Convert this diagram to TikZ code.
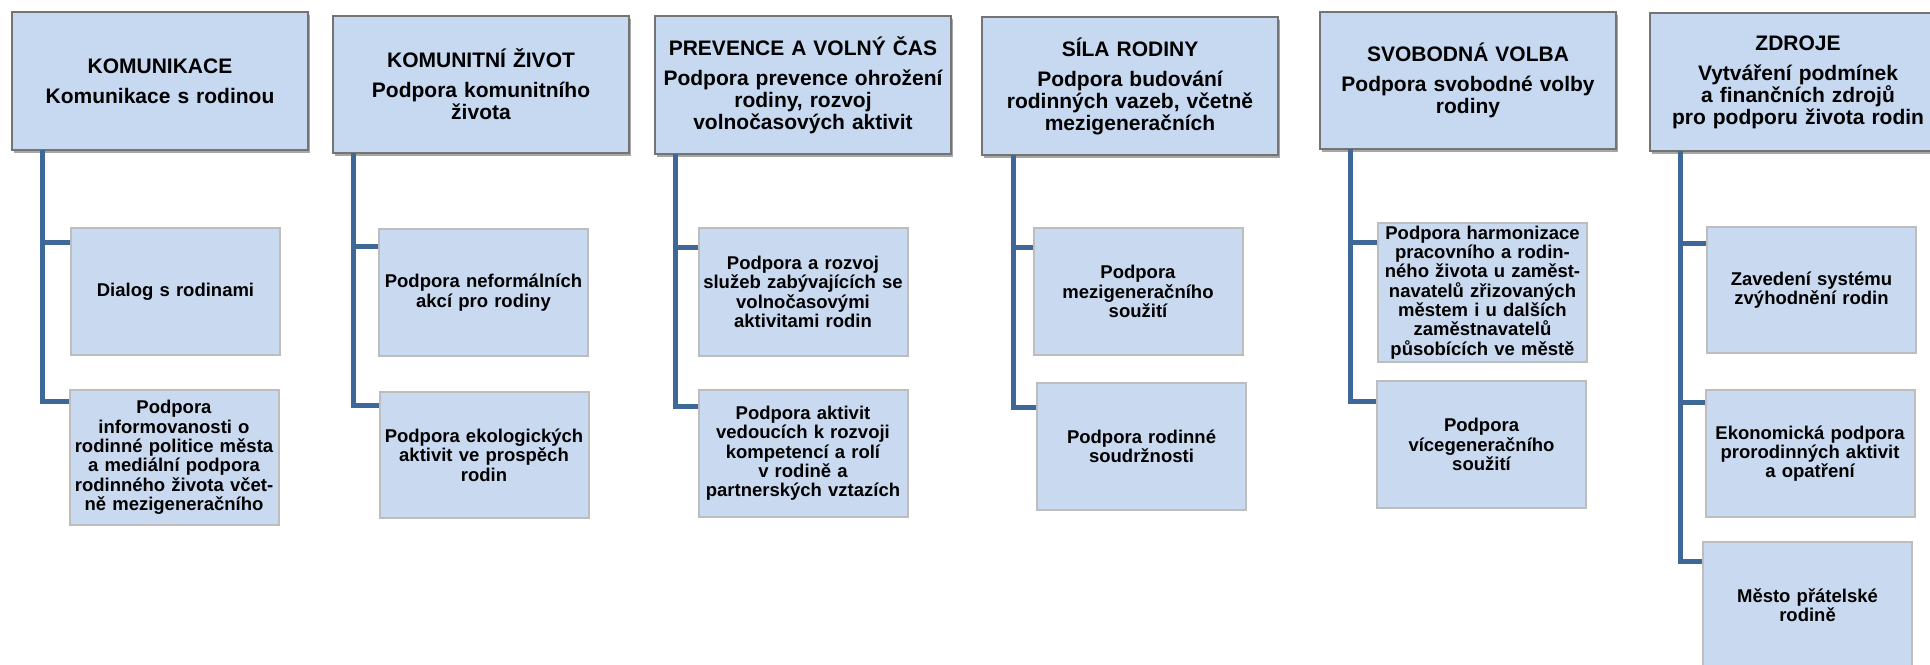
\documentclass[tikz,border=0pt]{standalone}
\usepackage{fontspec}
\setmainfont{Liberation Sans}
\usetikzlibrary{shadows}

\definecolor{headfill}{HTML}{C6D9F1}
\definecolor{itemfill}{HTML}{C9DAF0}
\definecolor{headline}{HTML}{747474}
\definecolor{itemline}{HTML}{BDBDBD}
\definecolor{linkblue}{HTML}{3D6898}

\tikzset{
  headbox/.style={draw=headline, line width=1.5pt, fill=headfill, align=center,
    inner sep=0pt, minimum width=296pt, text width=292pt,
    font=\fontsize{21}{22}\selectfont\bfseries,
    drop shadow={shadow xshift=2pt, shadow yshift=-3pt, fill=black, opacity=0.35}},
  itembox/.style={draw=itemline, line width=2pt, fill=itemfill, align=center,
    inner sep=0pt, minimum width=209pt, text width=205pt,
    font=\fontsize{18.5}{19.3}\selectfont\bfseries},
  link/.style={draw=linkblue, line width=5pt}
}

\begin{document}
\begin{tikzpicture}[x=1pt, y=-1pt]
%%   kw   (name)   (x, y)   {text}
    \fill[white] (0,0) rectangle (1930,664);
    \useasboundingbox (0,0) rectangle (1930,664);

    \node[headbox, minimum height=138pt] (h1) at (160,81) {KOMUNIKACE\\[8pt]Komunikace s rodinou};
    \node[headbox, minimum height=137pt] (h2) at (481,84.5) {KOMUNITNÍ ŽIVOT\\[8pt]Podpora komunitního\\života};
    \node[headbox, minimum height=138pt] (h3) at (803,85) {PREVENCE A VOLNÝ ČAS\\[8pt]Podpora prevence ohrožení\\rodiny, rozvoj\\volnočasových aktivit};
    \node[headbox, minimum height=138pt] (h4) at (1130,86) {SÍLA RODINY\\[8pt]Podpora budování\\rodinných vazeb, včetně\\mezigeneračních};
    \node[headbox, minimum height=137pt] (h5) at (1468,80.5) {SVOBODNÁ VOLBA\\[8pt]Podpora svobodné volby\\rodiny};
    \node[headbox, minimum height=138pt] (h6) at (1798,82) {ZDROJE\\[8pt]Vytváření podmínek\\a finančních zdrojů\\pro podporu života rodin};

    \node[itembox, minimum height=127pt] (c1a) at (175.5,291.5) {Dialog s rodinami};
    \node[itembox, minimum height=135pt] (c1b) at (174,457.5) {Podpora\\informovanosti o\\rodinné politice města\\a mediální podpora\\rodinného života včet-\\ně mezigeneračního};
    \node[itembox, minimum height=127pt] (c2a) at (483.5,292.5) {Podpora neformálních\\akcí pro rodiny};
    \node[itembox, minimum height=126pt] (c2b) at (484,455) {Podpora ekologických\\aktivit ve prospěch\\rodin};
    \node[itembox, minimum height=128pt] (c3a) at (803,292) {Podpora a rozvoj\\služeb zabývajících se\\volnočasovými\\aktivitami rodin};
    \node[itembox, minimum height=127pt] (c3b) at (803,453.5) {Podpora aktivit\\vedoucích k rozvoji\\kompetencí a rolí\\v rodině a\\partnerských vztazích};
    \node[itembox, minimum height=127pt] (c4a) at (1138,291.5) {Podpora\\mezigeneračního\\soužití};
    \node[itembox, minimum height=127pt] (c4b) at (1141.5,446.5) {Podpora rodinné\\soudržnosti};
    \node[itembox, minimum height=139pt] (c5a) at (1482.5,292.5) {Podpora harmonizace\\pracovního a rodin-\\ného života u zaměst-\\navatelů zřizovaných\\městem i u dalších\\zaměstnavatelů\\působících ve městě};
    \node[itembox, minimum height=127pt] (c5b) at (1481.5,444.5) {Podpora\\vícegeneračního\\soužití};
    \node[itembox, minimum height=126pt] (c6a) at (1811.5,290) {Zavedení systému\\zvýhodnění rodin};
    \node[itembox, minimum height=127pt] (c6b) at (1810,453.5) {Ekonomická podpora\\prorodinných aktivit\\a opatření};
    \node[itembox, minimum height=126pt] (c6c) at (1807.5,605) {Město přátelské\\rodině};

    \coordinate (t1) at (42,150);
    \coordinate (t2) at (353,153);
    \coordinate (t3) at (675,154);
    \coordinate (t4) at (1013,155);
    \coordinate (t5) at (1350,149);
    \coordinate (t6) at (1680,151);

    \draw[link] (t1) |- ([yshift=-15pt]c1a.north west);
    \draw[link] (t1) |- ([yshift=-12pt]c1b.north west);
    \draw[link] (t2) |- ([yshift=-18pt]c2a.north west);
    \draw[link] (t2) |- ([yshift=-14pt]c2b.north west);
    \draw[link] (t3) |- ([yshift=-20pt]c3a.north west);
    \draw[link] (t3) |- ([yshift=-17pt]c3b.north west);
    \draw[link] (t4) |- ([yshift=-20pt]c4a.north west);
    \draw[link] (t4) |- ([yshift=-25pt]c4b.north west);
    \draw[link] (t5) |- ([yshift=-20pt]c5a.north west);
    \draw[link] (t5) |- ([yshift=-21pt]c5b.north west);
    \draw[link] (t6) |- ([yshift=-17pt]c6a.north west);
    \draw[link] (t6) |- ([yshift=-13pt]c6b.north west);
    \draw[link] (t6) |- ([yshift=-20pt]c6c.north west);
\end{tikzpicture}
\end{document}
